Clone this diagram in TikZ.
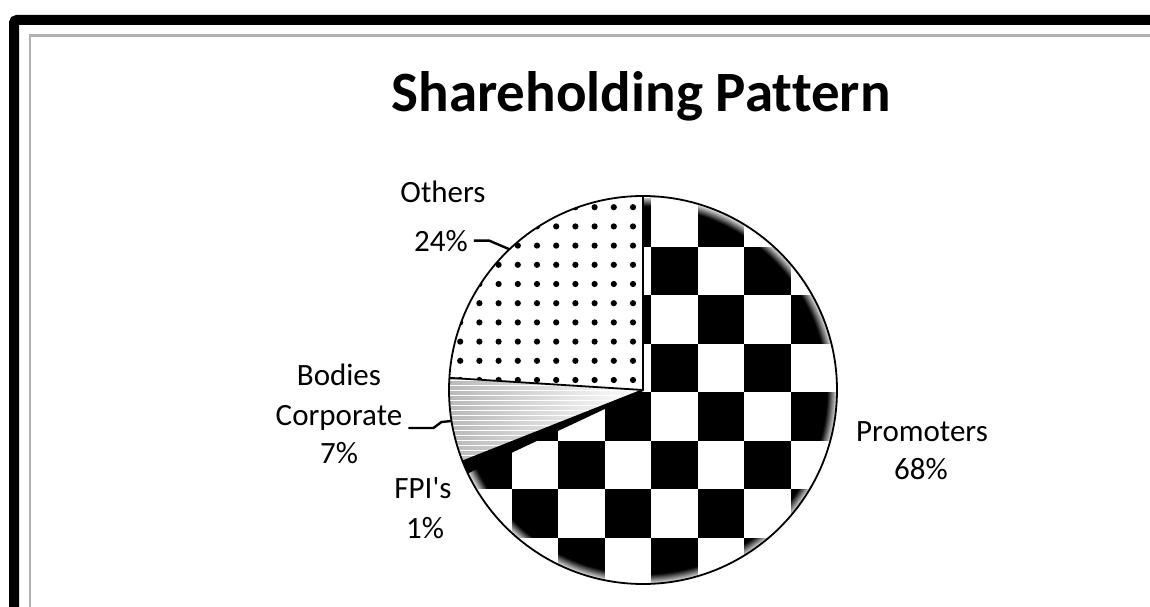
\documentclass[tikz,border=0pt]{standalone}
\usepackage{fontspec}
\setmainfont{Carlito}[Ligatures={NoCommon}]
\usetikzlibrary{fadings}
% opaque only in a thin band along the rim of a fitted circle
\pgfdeclareradialshading{rimshade}{\pgfpoint{0bp}{0bp}}{%
  color(0bp)=(black); color(23.6bp)=(black); color(25bp)=(white); color(50bp)=(white)}
\pgfdeclarefading{rimfade}{\pgfuseshading{rimshade}}
\begin{document}
\begin{tikzpicture}[x=1pt,y=1pt,
  lbl/.style={font=\fontsize{31}{33}\selectfont, inner sep=0pt, anchor=base},
  leader/.style={line width=2.4pt, black, line join=round},
  sliceedge/.style={line width=1.8pt, black, line join=round},
  pietitle/.style={font=\bfseries\fontsize{57}{64}\selectfont, anchor=base, inner sep=0pt}]
\useasboundingbox (0,0) rectangle (1150,-607);
\clip (0,0) rectangle (1150,-607);
\fill[white] (0,0) rectangle (1150,-607);

% chart frames
\draw[line width=10pt, rounded corners=3pt] (14,-20) rectangle (1170,-630);
\draw[line width=2.5pt, gray!60] (30,-35.5) rectangle (1170,-630);

\node[pietitle] (title) at (641,-112) {Shareholding Pattern};

\def\R{194}
\def\cw{46.5}
\def\ch{48.5}
\begin{scope}[shift={(643,-390)}]
  % Promoters: checkerboard
  \begin{scope}
    \clip (0,0) -- (90:\R) arc[start angle=90, end angle=-154.8, radius=\R] -- cycle;
    \fill[white] (-\R,-\R) rectangle (\R,\R);
    \foreach \i in {-6,...,5} {
      \foreach \j in {-6,...,5} {
        \pgfmathtruncatemacro{\cellpar}{mod(\i+\j+20,2)}
        \ifnum\cellpar=0
          \fill[black] (8+\i*\cw,-2+\j*\ch) rectangle ++(\cw,\ch);
        \fi
      }
    }
    % soft white rim
    \fill[white, path fading=rimfade, fit fading=true] (0,0) circle (\R);
  \end{scope}

  % Others: dotted
  \begin{scope}
    \clip (0,0) -- (176.4:\R) arc[start angle=176.4, end angle=90, radius=\R] -- cycle;
    \foreach \k in {0,...,10} {
      \foreach \m in {0,...,10} {
        \fill[black] (-10-19.2*\k, 10+19.2*\m) circle (3.1);
      }
    }
  \end{scope}

  % Bodies Corporate: grey stripes
  \begin{scope}
    \clip (0,0) -- (201.6:\R) arc[start angle=201.6, end angle=176.4, radius=\R] -- cycle;
    \shade[left color=gray!55, right color=white] (-\R,-80) rectangle (0,20);
    \foreach \y in {-80,-75,...,20} {
      \draw[white, line width=1pt] (-\R,\y) -- (0,\y);
    }
  \end{scope}

  % FPI's
  \fill[black] (0,0) -- (205.2:\R) arc[start angle=205.2, end angle=201.6, radius=\R] -- cycle;

  % slice outlines
  \draw[sliceedge] (0,0) circle (\R);
  \draw[sliceedge] (90:\R) -- (0,0) -- (176.4:\R);
  \draw[sliceedge] (0,0) -- (201.6:\R);
  \draw[sliceedge] (0,0) -- (205.2:\R);

  \coordinate (othersEnd) at (133.5:\R);
  \coordinate (bodiesEnd) at (189.2:\R);
\end{scope}

% labels
\node[lbl] (othersName) at (443,-202) {Others};
\node[lbl] (othersPct) at (441,-251) {24\%};
\node[lbl] (bodiesA) at (339,-385) {Bodies};
\node[lbl] (bodiesB) at (339,-425) {Corporate};
\node[lbl] (bodiesPct) at (339,-463) {7\%};
\node[lbl] (fpiName) at (423,-498) {FPI\textquotesingle s};
\node[lbl] (fpiPct) at (425,-538) {1\%};
\node[lbl] (promName) at (922,-441) {Promoters};
\node[lbl] (promPct) at (921,-479) {68\%};

% leader lines
\draw[leader] ([xshift=6pt]othersPct.east) -- ++(15,0) -- (othersEnd);
\draw[leader] ([shift={(6pt,-3pt)}]bodiesB.base east) -- ++(25,0) -- ++(8,6) -- (bodiesEnd);
\end{tikzpicture}
\end{document}
